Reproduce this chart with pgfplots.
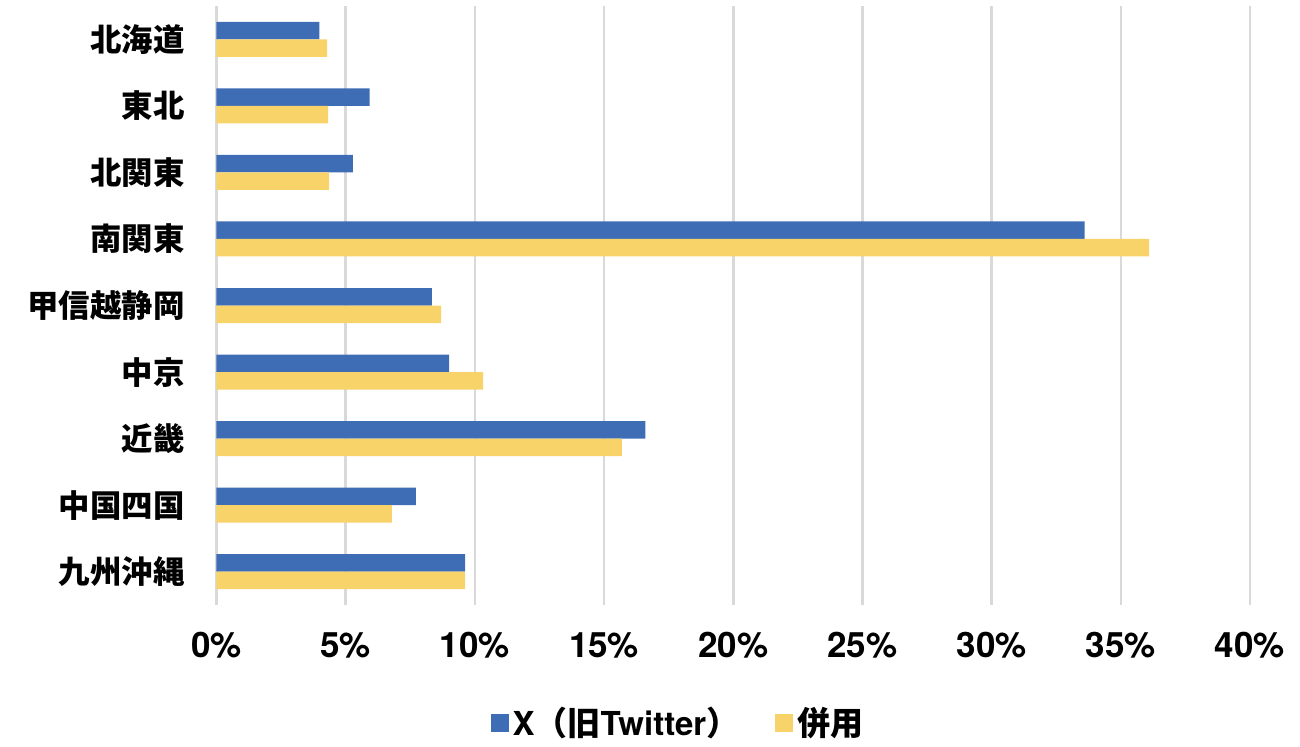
\documentclass[border=0pt]{standalone}
\usepackage{fontspec}
\setmainfont{TeX Gyre Heros}
\newfontfamily\cjk{Noto Sans CJK JP}
\usepackage{pgfplots}
\pgfplotsset{compat=1.18}
\definecolor{xblue}{HTML}{3E6DB5}
\definecolor{heiyou}{HTML}{F7D36A}
\definecolor{gridgray}{HTML}{D9D9D9}

\begin{document}
\begin{tikzpicture}
  \begin{axis}[
    at={(0,0)}, anchor=south west,
    scale only axis,
    width=516.75pt,
    height=299.5pt,
    xbar=0pt,
    bar width=8.75pt,
    xmin=0, xmax=40,
    ymin=-0.5, ymax=8.5,
    y dir=reverse,
    xtick={0,5,...,40},
    ytick={0,...,8},
    yticklabels={北海道,東北,北関東,南関東,甲信越静岡,中京,近畿,中国四国,九州沖縄},
    yticklabel style={font=\cjk\bfseries\fontsize{15.7}{16}\selectfont, inner sep=0pt, xshift=-15.75pt},
    xticklabel={\pgfmathprintnumber{\tick}\%},
    xticklabel style={font=\bfseries\fontsize{17.5}{17.5}\selectfont, inner sep=0pt, yshift=-13.5pt},
    /pgf/number format/assume math mode=true,
    xmajorgrids,
    major grid style={draw=gridgray, line width=1.25pt},
    axis line style={draw=none},
    major tick length=0pt,
    legend style={
      at={(0.4475,-0.197)},
      anchor=center,
      draw=none,
      legend columns=2,
      font=\bfseries\fontsize{16.5}{16.5}\selectfont,
      /tikz/every even column/.append style={column sep=16pt}
    },
    legend image code/.code={\fill[#1] (0pt,-4.5pt) rectangle (9pt,4.5pt);},
  ]

  % X (old Twitter)
  \addplot[fill=xblue, draw=none, bar shift=4.375pt] coordinates {
    (3.98,0) (5.93,1) (5.28,2) (33.6,3) (8.34,4)
    (9.0,5) (16.6,6) (7.72,7) (9.62,8)
  };
  \addlegendentry{X{\cjk（旧}Twitter{\cjk）}}

  % combined use
  \addplot[fill=heiyou, draw=none, bar shift=-4.375pt] coordinates {
    (4.28,0) (4.32,1) (4.36,2) (36.1,3) (8.69,4)
    (10.32,5) (15.69,6) (6.79,7) (9.62,8)
  };
  \addlegendentry{{\cjk 併用}}

  \end{axis}
  \pgfresetboundingbox
  \path[use as bounding box] (-108.25pt,-70.5pt) rectangle (541.75pt,302.5pt);
\end{tikzpicture}
\end{document}
